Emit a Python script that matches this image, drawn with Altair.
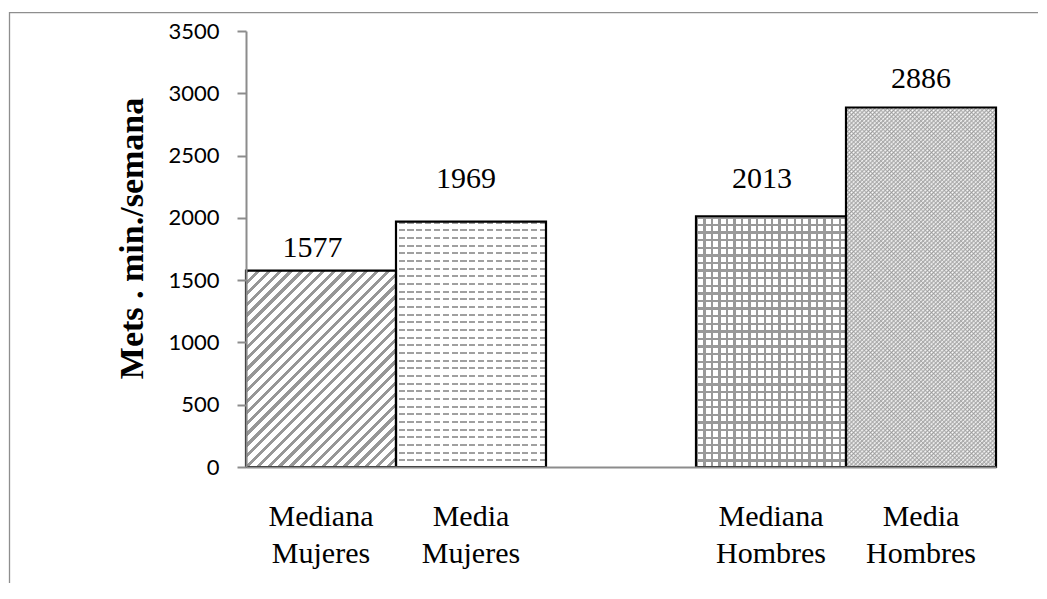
import altair as alt
import pandas as pd

# ---- data ----
categories = ["Mediana\nMujeres", "Media\nMujeres", "Mediana\nHombres", "Media\nHombres"]
values = [1577, 1969, 2013, 2886]
x_domain = ["Mediana\nMujeres", "Media\nMujeres", "", "Mediana\nHombres", "Media\nHombres"]
y_ticks = [0, 500, 1000, 1500, 2000, 2500, 3000, 3500]
y_title = "Mets . min./semana"

df = pd.DataFrame({"category": categories, "value": values, "idx": list(range(len(categories)))})

# ---- layout (pixels) ----
PLOT_W, PLOT_H = 750, 436
SLOT_W = PLOT_W / len(x_domain)
YMAX = 3500


def bar_h(v):
    return v / YMAX * PLOT_H


def stripes(n, frac, line, bg, x1, y1, x2, y2):
    stops = []
    for i in range(n):
        a = i / n
        b = (i + frac) / n
        c = (i + 1) / n
        stops += [
            alt.GradientStop(color=line, offset=a),
            alt.GradientStop(color=line, offset=b),
            alt.GradientStop(color=bg, offset=b),
            alt.GradientStop(color=bg, offset=c),
        ]
    return alt.LinearGradient(gradient="linear", stops=stops, x1=x1, y1=y1, x2=x2, y2=y2)


def ramps(n, line, bg, x1, y1, x2, y2):
    stops = []
    for i in range(n):
        stops += [
            alt.GradientStop(color=line, offset=i / n),
            alt.GradientStop(color=bg, offset=(i + 0.5) / n),
        ]
    stops.append(alt.GradientStop(color=line, offset=1))
    return alt.LinearGradient(gradient="linear", stops=stops, x1=x1, y1=y1, x2=x2, y2=y2)


def diag_coords(w, h, up=True):
    r = h / w
    k = (1 + r) / (1 + r * r)
    if up:  # "/" lines
        return (0, 0, k, k * r)
    return (0, 1, k, 1 - k * r)  # "\" lines


CLEAR = "rgba(255,255,255,0)"

x_enc = alt.X(
    "category:N",
    scale=alt.Scale(domain=x_domain, paddingInner=0, paddingOuter=0),
    sort=x_domain,
    title=None,
    axis=alt.Axis(
        labelExpr="split(datum.label, '\\n')",
        labelFont="Liberation Serif",
        labelFontSize=30,
        labelColor="#000000",
        labelLineHeight=37,
        labelPadding=34,
        labelAngle=0,
        ticks=False,
        tickSize=0,
        domainColor="#8c8c8c",
        domainWidth=2,
        zindex=1,
    ),
)
y_enc = alt.Y(
    "value:Q",
    scale=alt.Scale(domain=[0, YMAX], nice=False),
    axis=alt.Axis(
        values=y_ticks,
        format="d",
        grid=False,
        tickSize=9,
        tickColor="#8c8c8c",
        tickWidth=2,
        domainColor="#8c8c8c",
        domainWidth=2,
        labelFont="Lato",
        labelFontSize=22,
        labelColor="#000000",
        labelPadding=18,
        title=y_title,
        titleFont="Liberation Serif",
        titleFontWeight="bold",
        titleFontSize=34,
        titleColor="#000000",
        titleAngle=270,
        titleAlign="center",
        titleBaseline="alphabetic",
        titleX=-104,
        titleY=207,
        zindex=1,
    ),
)

base = alt.Chart(df).encode(x=x_enc, y=y_enc)


def one(i):
    return base.transform_filter(alt.datum.idx == i)


layers = []

# border of the chart area
border = alt.Chart(alt.Data(values=[{"a": 1}])).mark_rect(
    fill="white", fillOpacity=0, stroke="#8e8e8e", strokeWidth=1.3
).encode(x=alt.value(-236.5), x2=alt.value(830), y=alt.value(-18.3), y2=alt.value(700))
layers.append(border)

# bar 1: diagonal hatch
h1 = bar_h(values[0])
layers.append(one(0).mark_bar(fill=stripes(32, 0.4, "#979797", "#ffffff", *diag_coords(SLOT_W, h1, True))))

# bar 2: horizontal dashes
h2 = bar_h(values[1])
layers.append(one(1).mark_bar(fill=stripes(int(round(h2 / 7.6)), 0.27, "#a0a0a0", "#ffffff", 0, 0, 0, 1)))
layers.append(one(1).mark_bar(fill=stripes(17, 0.3, "#ffffff", CLEAR, 0, 0, 1, 0)))

# bar 3: square grid
h3 = bar_h(values[2])
layers.append(one(2).mark_bar(fill=stripes(20, 0.3, "#999999", "#ffffff", 0, 0, 1, 0)))
layers.append(one(2).mark_bar(fill=stripes(int(round(h3 / 7.5)), 0.3, "#999999", CLEAR, 0, 0, 0, 1)))

# bar 4: fine crosshatch (soft)
h4 = bar_h(values[3])
n4 = int(round((SLOT_W + h4) / 4.2))
layers.append(one(3).mark_bar(fill=ramps(n4, "#9a9a9a", "#ffffff", *diag_coords(SLOT_W, h4, True))))
layers.append(one(3).mark_bar(fill=ramps(n4, "rgba(150,150,150,0.75)", CLEAR, *diag_coords(SLOT_W, h4, False))))

# outlines
layers.append(base.mark_bar(fill="white", fillOpacity=0, stroke="#000000", strokeWidth=2.2))

# value labels (offsets as placed in the reference)
label_dx = [-8.5, -5, -9, 0]
label_dy = [-14, -34, -28.5, -19]
for i in range(len(categories)):
    layers.append(
        one(i).mark_text(
            font="Liberation Serif", fontSize=30, color="#000000",
            baseline="alphabetic", align="center", dx=label_dx[i], dy=label_dy[i],
        ).encode(text=alt.Text("value:Q", format="d"))
    )

chart = (
    alt.layer(*layers)
    .properties(
        width=PLOT_W,
        height=PLOT_H,
        autosize=alt.AutoSizeParams(type="none"),
        padding={"left": 238, "top": 23, "right": 42, "bottom": 116},
        background="white",
    )
    .configure_view(strokeWidth=0)
)

chart.save("out.html", embed_options={"renderer": "svg", "actions": False})
